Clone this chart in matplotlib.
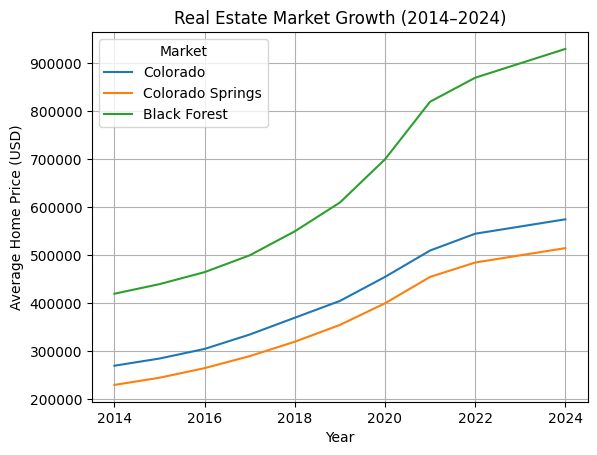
import matplotlib
matplotlib.use("Agg")
import matplotlib.pyplot as plt

years = [2014, 2015, 2016, 2017, 2018, 2019, 2020, 2021, 2022, 2023, 2024]
colorado = [270000, 285000, 305000, 335000, 370000, 405000, 455000, 510000, 545000, 560000, 575000]
colorado_springs = [230000, 245000, 265000, 290000, 320000, 355000, 400000, 455000, 485000, 500000, 515000]
black_forest = [420000, 440000, 465000, 500000, 550000, 610000, 700000, 820000, 870000, 900000, 930000]

fig, ax = plt.subplots(figsize=(6.4, 4.8), dpi=100)
ax.plot(years, colorado, label="Colorado")
ax.plot(years, colorado_springs, label="Colorado Springs")
ax.plot(years, black_forest, label="Black Forest")

ax.set_title("Real Estate Market Growth (2014\u20132024)")
ax.set_xlabel("Year")
ax.set_ylabel("Average Home Price (USD)")
ax.legend(title="Market", loc="upper left")
ax.grid(True)

fig.savefig("out.png", bbox_inches="tight")
